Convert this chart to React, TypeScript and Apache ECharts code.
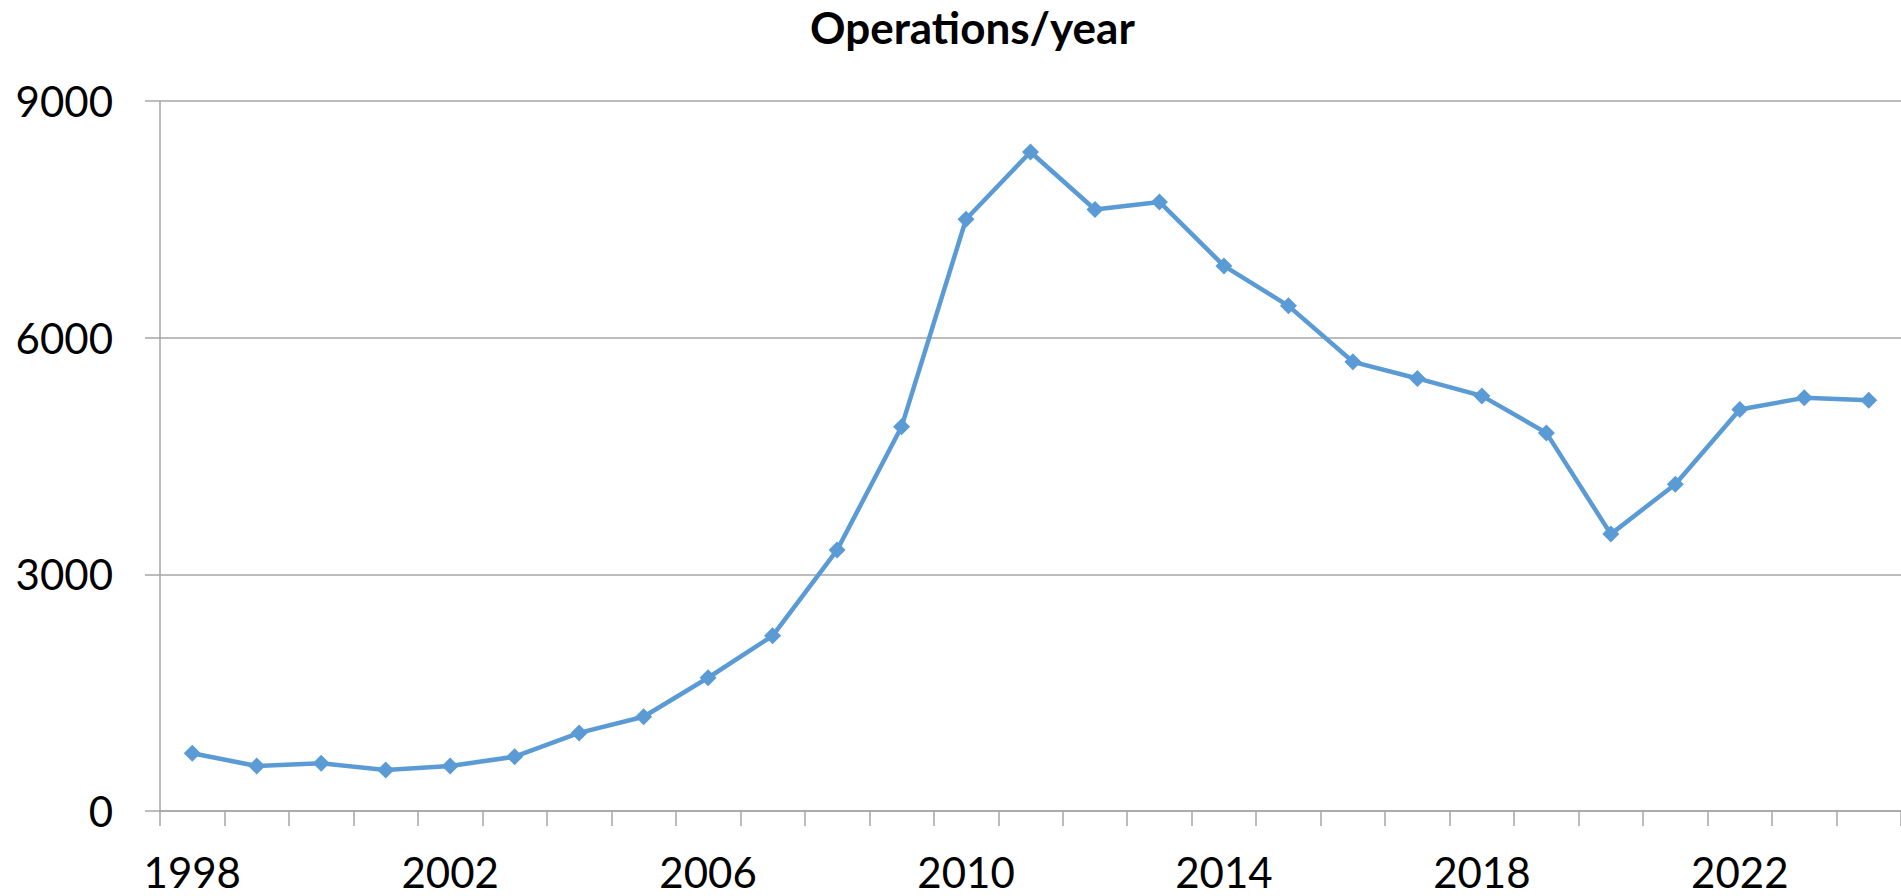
import React, { useEffect, useRef } from "react";
import * as echarts from "echarts";

const years: string[] = [
  "1998", "1999", "2000", "2001", "2002", "2003", "2004", "2005", "2006",
  "2007", "2008", "2009", "2010", "2011", "2012", "2013", "2014", "2015",
  "2016", "2017", "2018", "2019", "2020", "2021", "2022", "2023", "2024",
];

const operations: number[] = [
  731, 570, 604, 520, 570, 688, 990, 1195, 1689,
  2221, 3307, 4870, 7501, 8354, 7624, 7721, 6910, 6403,
  5694, 5483, 5262, 4793, 3510, 4143, 5090, 5237, 5208,
];

const yTicks: number[] = [0, 3000, 6000, 9000];

const titleText = "Operations/year";
const FONT = "Lato, 'Liberation Sans', sans-serif";

export default function App() {
  const ref = useRef<HTMLDivElement>(null);

  useEffect(() => {
    if (!ref.current) return;
    const chart = echarts.init(ref.current, undefined, { renderer: "svg" });
    chart.setOption({
      animation: false,
      backgroundColor: "#ffffff",
      title: {
        text: titleText,
        left: 810,
        top: 5,
        padding: 0,
        textStyle: {
          fontFamily: FONT,
          fontWeight: "bold",
          fontSize: 44,
          lineHeight: 44,
          color: "#000000",
        },
      },
      grid: {
        left: 160,
        top: 101,
        bottom: 85,
        right: -6,
        containLabel: false,
      },
      xAxis: {
        type: "category",
        data: years,
        boundaryGap: true,
        axisLine: { show: true, lineStyle: { color: "#a6a6a6", width: 1.5 } },
        axisTick: {
          show: true,
          interval: 0,
          length: 15,
          lineStyle: { color: "#a6a6a6", width: 1.5 },
        },
        axisLabel: {
          interval: 3,
          margin: 40,
          fontFamily: FONT,
          fontSize: 42,
          color: "#000000",
        },
        splitLine: { show: false },
      },
      yAxis: {
        type: "value",
        min: yTicks[0],
        max: yTicks[yTicks.length - 1],
        interval: 3000,
        axisLine: { show: true, lineStyle: { color: "#a6a6a6", width: 1.5 } },
        axisTick: {
          show: true,
          length: 15,
          lineStyle: { color: "#a6a6a6", width: 1.5 },
        },
        axisLabel: {
          margin: 47,
          fontFamily: FONT,
          fontSize: 42,
          color: "#000000",
          formatter: (v: number) => String(v),
        },
        splitLine: { show: true, lineStyle: { color: "#a6a6a6", width: 1.5 } },
      },
      series: [
        {
          type: "line",
          data: operations,
          symbol: "diamond",
          symbolSize: 17,
          showAllSymbol: true,
          lineStyle: { color: "#5b9bd5", width: 4.5 },
          itemStyle: { color: "#5b9bd5" },
        },
      ],
    });
    return () => chart.dispose();
  }, []);

  return (
    <div
      ref={ref}
      style={{
        position: "fixed",
        left: 0,
        top: 0,
        width: 1901,
        height: 896,
        background: "#ffffff",
      }}
    />
  );
}
